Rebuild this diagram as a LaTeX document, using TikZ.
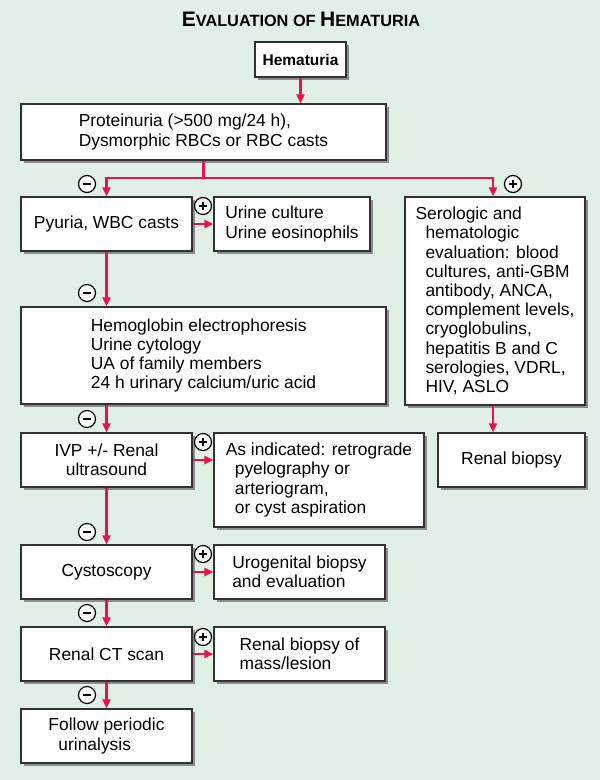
\documentclass[tikz,border=0pt]{standalone}
\usepackage{fontspec}
\setmainfont{Liberation Sans}
\usetikzlibrary{arrows.meta,shadows,calc}
\definecolor{bg}{RGB}{225,240,230}
\definecolor{arr}{RGB}{230,20,75}
\definecolor{edge}{RGB}{50,50,50}
\begin{document}
\begin{tikzpicture}[x=1pt,y=-1pt,
  box/.style={draw=edge,line width=1.3pt,fill=white,inner sep=0pt,align=left,
    font=\fontsize{17.4}{19.2}\selectfont,
    drop shadow={shadow xshift=2.5pt,shadow yshift=-2.5pt,fill=black!45,opacity=1}},
  flow/.style={draw=arr,line width=2.3pt,-{Triangle[length=9pt,width=8pt]}},
  trunk/.style={draw=arr,line width=2.3pt},
  signcirc/.style={circle,draw=black,line width=1.2pt,fill=white,minimum size=17pt,inner sep=0pt},
  minussign/.style={signcirc,path picture={\draw[line width=2.4pt]
     ([xshift=-4.2pt]path picture bounding box.center) -- ([xshift=4.2pt]path picture bounding box.center);}},
  plussign/.style={signcirc,path picture={\draw[line width=2.4pt]
     ([xshift=-4.2pt]path picture bounding box.center) -- ([xshift=4.2pt]path picture bounding box.center)
     ([yshift=-4.2pt]path picture bounding box.center) -- ([yshift=4.2pt]path picture bounding box.center);}}]
\useasboundingbox (0,0) rectangle (600,780);
\fill[bg] (0,0) rectangle (600,780);

\node[font=\bfseries\fontsize{21}{24}\selectfont,anchor=base] (title) at (301,26)
  {E{\fontsize{16.3}{18}\selectfont VALUATION OF }H{\fontsize{16.3}{18}\selectfont EMATURIA}};

\node[box,minimum width=91pt,minimum height=35pt,font=\bfseries\fontsize{15.5}{18}\selectfont] (hem) at (300.5,59.5) {Hematuria};
\node[box,minimum width=365pt,minimum height=56pt] (prot) at (203.5,132)
  {Proteinuria (>500 mg/24 h),\\Dysmorphic RBCs or RBC casts};
\node[box,minimum width=171pt,minimum height=54pt] (pyu) at (106.5,224) {Pyuria, WBC casts};
\node[box,minimum width=156pt,minimum height=54pt] (uc) at (292,224) {Urine culture\\Urine eosinophils};
\node[box,minimum width=180pt,minimum height=208pt] (sero) at (495,301)
  {Serologic and\\\hspace*{10pt}hematologic\\\hspace*{10pt}evaluation: blood\\\hspace*{10pt}cultures, anti-GBM\\\hspace*{10pt}antibody, ANCA,\\\hspace*{10pt}complement levels,\\\hspace*{10pt}cryoglobulins,\\\hspace*{10pt}hepatitis B and C\\\hspace*{10pt}serologies, VDRL,\\\hspace*{10pt}HIV, ASLO};
\node[box,minimum width=365pt,minimum height=97pt] (hgb) at (203.5,355.5)
  {Hemoglobin electrophoresis\\Urine cytology\\UA of family members\\24 h urinary calcium/uric acid};
\node[box,minimum width=171pt,minimum height=54pt,align=center] (ivp) at (106.5,460) {IVP +/- Renal\\ultrasound};
\node[box,minimum width=210pt,minimum height=94pt] (asind) at (319,480)
  {As indicated: retrograde\\\hspace*{9pt}pyelography or\\\hspace*{9pt}arteriogram,\\\hspace*{9pt}or cyst aspiration};
\node[box,minimum width=147pt,minimum height=54pt] (rb) at (511.5,460) {Renal biopsy};
\node[box,minimum width=171pt,minimum height=54pt] (cys) at (106.5,572) {Cystoscopy};
\node[box,minimum width=171pt,minimum height=54pt] (uro) at (299.5,572) {Urogenital biopsy\\and evaluation};
\node[box,minimum width=171pt,minimum height=54pt] (ct) at (106.5,654) {Renal CT scan};
\node[box,minimum width=171pt,minimum height=54pt] (rbm) at (299.5,654) {Renal biopsy of\\mass/lesion};
\node[box,minimum width=171pt,minimum height=54pt] (fol) at (106.5,736) {Follow periodic\\\hspace*{10pt}urinalysis};

% connectors
\draw[flow] (hem.south) -- (hem.south |- prot.north);
\coordinate (split) at ($(prot.south)+(0,17)$);
\draw[trunk] (prot.south) -- (split);
\draw[flow] (split) -| (pyu.north);
\draw[flow] (split) -| ($(sero.north)+(-2,0)$);
\draw[flow] (pyu.east) -- (uc.west);
\draw[flow] (pyu.south) -- (pyu.south |- hgb.north);
\draw[flow] (ivp.north |- hgb.south) -- (ivp.north);
\draw[flow] (ivp.east) -- (ivp.east -| asind.west);
\draw[flow] (ivp.south) -- (cys.north);
\draw[flow] (cys.east) -- (uro.west);
\draw[flow] (cys.south) -- (ct.north);
\draw[flow] (ct.east) -- (rbm.west);
\draw[flow] (ct.south) -- (fol.north);
\draw[flow] ($(sero.south)+(-2,0)$) -- ($(sero.south |- rb.north)+(-2,0)$);

% signs
\node[minussign] (s1) at (87,184) {};
\node[plussign] (s2) at (513,184) {};
\node[plussign] (s3) at (203,206) {};
\node[minussign] (s4) at (87,293) {};
\node[minussign] (s5) at (87,419) {};
\node[plussign] (s6) at (203,442) {};
\node[minussign] (s7) at (87,532) {};
\node[plussign] (s8) at (203,554) {};
\node[minussign] (s9) at (87,613) {};
\node[plussign] (s10) at (203,637) {};
\node[minussign] (s11) at (87,695) {};
\end{tikzpicture}
\end{document}
